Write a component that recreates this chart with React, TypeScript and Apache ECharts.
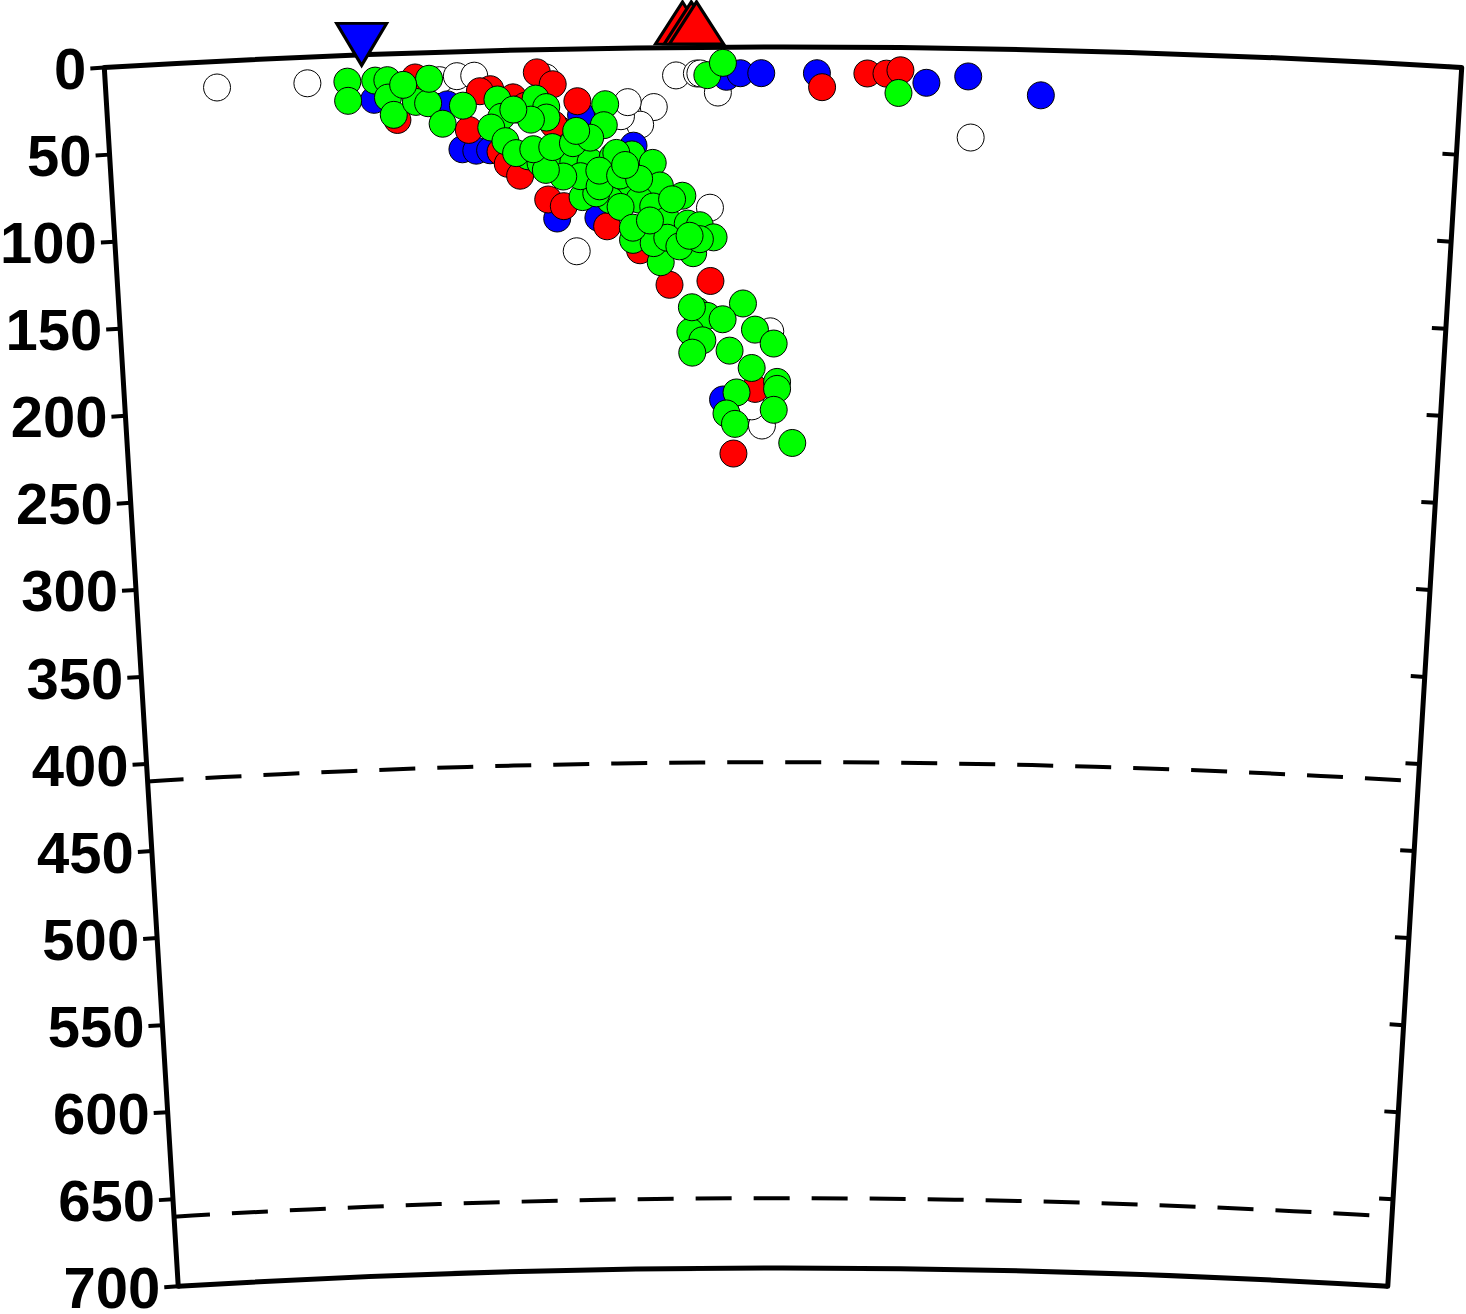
import React, { useEffect, useRef } from "react";
import * as echarts from "echarts";

// ---- data: [distance along profile (km from left edge), depth (km)] ----
const DEPTH_MIN = 0;
const DEPTH_MAX = 700;
const DEPTH_STEP = 50;
const DIST_MIN = 0;
const DIST_MAX = 779;

const solidBoundaries = [0, 700];
const dashedBoundaries = [410, 660];

const whiteQuakes = [
  [64, 15], [116, 15], [192, 16], [202, 14], [212, 14], [253, 16], [301, 36], [315, 34],
  [307, 44], [296, 39], [328, 16], [340, 15], [342, 15], [352, 26], [300, 31], [269, 116],
  [347, 92], [382, 163], [377, 217], [371, 206], [498, 51],
];

const blueQuakes = [
  [154, 26], [204, 56], [212, 57], [220, 57], [258, 97], [282, 97], [303, 56], [357, 17],
  [365, 15], [377, 15], [409, 15], [472, 20], [496, 16], [538, 26], [354, 202], [196, 30],
  [273, 38],
];

const redQuakes = [
  [178, 14], [167, 38], [221, 22], [234, 27], [248, 13], [257, 20], [271, 30], [208, 45],
  [226, 58], [230, 65], [237, 72], [253, 86], [262, 90], [287, 102], [306, 116], [323, 136],
  [347, 134], [360, 233], [373, 196], [412, 23], [438, 15], [449, 15], [457, 13], [236, 34],
  [215, 23], [260, 46], [241, 32], [257, 43],
];

const greenQuakes = [
  // shallow
  [139, 15], [139, 26], [155, 15], [162, 15], [162, 25], [165, 35], [178, 28], [185, 29],
  [186, 15], [193, 41], [205, 31], [225, 28], [227, 38], [221, 44], [229, 52], [247, 28],
  [253, 33], [253, 39], [244, 40], [287, 32], [286, 44], [346, 16], [355, 9], [456, 26],
  [171, 18], [234, 34],
  // main band
  [242, 61], [249, 65], [258, 66], [268, 65], [278, 65], [291, 62], [302, 61], [314, 66],
  [318, 79], [331, 85], [299, 87], [306, 87], [314, 91], [322, 99], [334, 101], [341, 102],
  [349, 109], [337, 118], [318, 123], [302, 110], [314, 112], [322, 109], [329, 114], [289, 87],
  [273, 85], [281, 83], [272, 73], [262, 73], [252, 69], [235, 59], [245, 57], [256, 56],
  [268, 54], [278, 51], [270, 47], [293, 60], [283, 79], [295, 91], [302, 103], [312, 99],
  [283, 70], [295, 73], [306, 75], [298, 67], [341, 110], [335, 108], [325, 87],
  // deep
  [366, 147], [339, 151], [345, 154], [354, 156], [335, 163], [373, 162], [384, 170], [342, 168],
  [358, 174], [336, 175], [371, 184], [386, 192], [386, 196], [362, 198], [356, 210], [361, 216],
  [384, 208], [395, 227], [336, 149],
];

const stationMarks = [[148, -6]];
const volcanoMarks = [[332, -14], [337, -14], [340, -14]];

// ---- layout (pixels) ----
const CX = 783;
const CY = 11254;
const R_OUTER = 11207;
const R_INNER = 9986;
const HALF_DEG = 3.472;

function arcRenderer(dashed: boolean) {
  return (params: any, api: any) => {
    const d = api.value(0);
    const p0 = api.coord([d, DIST_MIN]);
    const p1 = api.coord([d, DIST_MAX]);
    const cs = params.coordSys;
    const cx = cs.cx;
    const cy = cs.cy;
    const r = Math.hypot(p0[0] - cx, p0[1] - cy);
    const a0 = Math.atan2(p0[1] - cy, p0[0] - cx);
    const a1 = Math.atan2(p1[1] - cy, p1[0] - cx);
    return {
      type: "arc",
      shape: { cx, cy, r, startAngle: a0, endAngle: a1, clockwise: true },
      style: {
        stroke: "#000",
        fill: "none",
        lineWidth: dashed ? 4 : 5,
        lineDash: dashed ? [36, 22] : null,
      },
    };
  };
}

function quakeSeries(data: number[][], color: string) {
  return {
    type: "scatter",
    coordinateSystem: "polar",
    polarIndex: 0,
    data: data.map(([s, d]) => [d, s]),
    symbol: "circle",
    symbolSize: 27,
    clip: false,
    silent: true,
    itemStyle: { color, borderColor: "#000", borderWidth: 1, opacity: 1 },
  };
}

export default function App() {
  const ref = useRef<HTMLDivElement>(null);
  useEffect(() => {
    document.body.style.margin = "0";
    if (!ref.current) return;
    const chart = echarts.init(ref.current, null, { renderer: "svg" });
    const axisCommon = {
      type: "value",
      min: DEPTH_MIN,
      max: DEPTH_MAX,
      interval: DEPTH_STEP,
      inverse: true,
      axisLine: { show: true, lineStyle: { color: "#000", width: 5 } },
      splitLine: { show: false },
      splitArea: { show: false },
    };
    const angleCommon = {
      type: "value",
      min: DIST_MIN,
      max: DIST_MAX,
      axisLine: { show: false },
      axisTick: { show: false },
      axisLabel: { show: false },
      splitLine: { show: false },
      splitArea: { show: false },
    };
    chart.setOption({
      animation: false,
      backgroundColor: "#ffffff",
      polar: [
        { center: [CX, CY], radius: [R_INNER, R_OUTER] },
        { center: [CX, CY], radius: [R_INNER, R_OUTER] },
      ],
      angleAxis: [
        { ...angleCommon, polarIndex: 0, startAngle: 90 + HALF_DEG, endAngle: 90 - HALF_DEG, clockwise: true },
        { ...angleCommon, polarIndex: 1, startAngle: 90 - HALF_DEG, endAngle: 90 - HALF_DEG - 10, clockwise: true },
      ],
      radiusAxis: [
        {
          ...axisCommon,
          polarIndex: 0,
          axisTick: { show: true, length: 14, lineStyle: { color: "#000", width: 4 } },
          axisLabel: {
            show: true,
            margin: 18,
            fontSize: 58,
            fontWeight: "bold",
            fontFamily: "Liberation Sans, Arial, Helvetica, sans-serif",
            color: "#000",
            showMinLabel: true,
            showMaxLabel: true,
          },
        },
        {
          ...axisCommon,
          polarIndex: 1,
          axisTick: { show: true, inside: true, length: 14, lineStyle: { color: "#000", width: 4 } },
          axisLabel: { show: false },
        },
      ],
      series: [
        {
          type: "custom",
          coordinateSystem: "polar",
          polarIndex: 0,
          silent: true,
          data: solidBoundaries.map((d) => [d, DIST_MIN]),
          renderItem: arcRenderer(false),
        },
        {
          type: "custom",
          coordinateSystem: "polar",
          polarIndex: 0,
          silent: true,
          data: dashedBoundaries.map((d) => [d, DIST_MIN]),
          renderItem: arcRenderer(true),
        },
        quakeSeries(whiteQuakes, "#ffffff"),
        quakeSeries(blueQuakes, "#0000ff"),
        quakeSeries(redQuakes, "#ff0000"),
        quakeSeries(greenQuakes, "#00ff00"),
        {
          type: "scatter",
          coordinateSystem: "polar",
          polarIndex: 0,
          data: stationMarks.map(([s, d]) => [d, s]),
          symbol: "triangle",
          symbolSize: [50, 42],
          symbolRotate: 180,
          clip: false,
          silent: true,
          itemStyle: { color: "#0000ff", borderColor: "#000", borderWidth: 3, opacity: 1 },
        },
        {
          type: "scatter",
          coordinateSystem: "polar",
          polarIndex: 0,
          data: volcanoMarks.map(([s, d]) => [d, s]),
          symbol: "triangle",
          symbolSize: [54, 42],
          clip: false,
          silent: true,
          itemStyle: { color: "#ff0000", borderColor: "#000", borderWidth: 3, opacity: 1 },
        },
      ],
    });
    return () => chart.dispose();
  }, []);
  return <div ref={ref} style={{ width: 1466, height: 1314 }} />;
}
